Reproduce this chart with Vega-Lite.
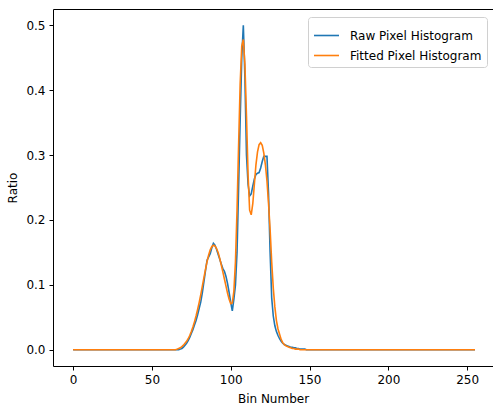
{
  "$schema": "https://vega.github.io/schema/vega-lite/v6.json",
  "autosize": "none",
  "width": 440,
  "height": 357,
  "padding": {"left": 53, "top": 9, "right": 0, "bottom": 43},
  "background": "white",
  "config": {
    "view": {"stroke": null},
    "font": "DejaVu Sans",
    "axis": {
      "domainColor": "black",
      "domainWidth": 1,
      "tickColor": "black",
      "tickSize": 4,
      "tickWidth": 1,
      "labelColor": "black",
      "labelFont": "DejaVu Sans",
      "labelFontSize": 12,
      "labelPadding": 4,
      "titleFont": "DejaVu Sans",
      "titleFontSize": 12,
      "titleFontWeight": "normal",
      "titleColor": "black",
      "grid": false
    }
  },
  "datasets": {
    "raw": [
      {"bin": 0, "ratio": 0}, {"bin": 10, "ratio": 0}, {"bin": 20, "ratio": 0}, {"bin": 30, "ratio": 0}, {"bin": 40, "ratio": 0}, {"bin": 50, "ratio": 0}, {"bin": 60, "ratio": 0}, {"bin": 65, "ratio": 0}, {"bin": 66, "ratio": 0}, {"bin": 67, "ratio": 0},
      {"bin": 68, "ratio": 0.001}, {"bin": 69, "ratio": 0.002}, {"bin": 70, "ratio": 0.004}, {"bin": 71, "ratio": 0.007}, {"bin": 72, "ratio": 0.010}, {"bin": 73, "ratio": 0.014}, {"bin": 74, "ratio": 0.019}, {"bin": 75, "ratio": 0.025}, {"bin": 76, "ratio": 0.031}, {"bin": 77, "ratio": 0.038},
      {"bin": 78, "ratio": 0.045}, {"bin": 79, "ratio": 0.054}, {"bin": 80, "ratio": 0.064}, {"bin": 81, "ratio": 0.074}, {"bin": 82, "ratio": 0.088}, {"bin": 83, "ratio": 0.105}, {"bin": 84, "ratio": 0.122}, {"bin": 85, "ratio": 0.138}, {"bin": 86, "ratio": 0.143}, {"bin": 87, "ratio": 0.148},
      {"bin": 88, "ratio": 0.157}, {"bin": 89, "ratio": 0.164}, {"bin": 90, "ratio": 0.161}, {"bin": 91, "ratio": 0.155}, {"bin": 92, "ratio": 0.147}, {"bin": 93, "ratio": 0.140}, {"bin": 94, "ratio": 0.132}, {"bin": 95, "ratio": 0.125}, {"bin": 96, "ratio": 0.121}, {"bin": 97, "ratio": 0.113},
      {"bin": 98, "ratio": 0.102}, {"bin": 99, "ratio": 0.088}, {"bin": 100, "ratio": 0.073}, {"bin": 101, "ratio": 0.060}, {"bin": 102, "ratio": 0.078}, {"bin": 103, "ratio": 0.100}, {"bin": 104, "ratio": 0.150}, {"bin": 105, "ratio": 0.250}, {"bin": 106, "ratio": 0.355}, {"bin": 107, "ratio": 0.450},
      {"bin": 108, "ratio": 0.500}, {"bin": 109, "ratio": 0.420}, {"bin": 110, "ratio": 0.300}, {"bin": 111, "ratio": 0.255}, {"bin": 112, "ratio": 0.237}, {"bin": 113, "ratio": 0.240}, {"bin": 114, "ratio": 0.252}, {"bin": 115, "ratio": 0.263}, {"bin": 116, "ratio": 0.270}, {"bin": 117, "ratio": 0.272},
      {"bin": 118, "ratio": 0.273}, {"bin": 119, "ratio": 0.280}, {"bin": 120, "ratio": 0.290}, {"bin": 121, "ratio": 0.298}, {"bin": 122, "ratio": 0.298}, {"bin": 123, "ratio": 0.298}, {"bin": 124, "ratio": 0.240}, {"bin": 125, "ratio": 0.150}, {"bin": 126, "ratio": 0.080}, {"bin": 127, "ratio": 0.052},
      {"bin": 128, "ratio": 0.037}, {"bin": 129, "ratio": 0.028}, {"bin": 130, "ratio": 0.022}, {"bin": 131, "ratio": 0.017}, {"bin": 132, "ratio": 0.013}, {"bin": 133, "ratio": 0.010}, {"bin": 134, "ratio": 0.008}, {"bin": 135, "ratio": 0.007}, {"bin": 136, "ratio": 0.006}, {"bin": 137, "ratio": 0.005},
      {"bin": 138, "ratio": 0.004}, {"bin": 139, "ratio": 0.004}, {"bin": 140, "ratio": 0.003}, {"bin": 141, "ratio": 0.003}, {"bin": 142, "ratio": 0.002}, {"bin": 143, "ratio": 0.002}, {"bin": 144, "ratio": 0.001}, {"bin": 145, "ratio": 0.001}, {"bin": 146, "ratio": 0.001}, {"bin": 147, "ratio": 0.001},
      {"bin": 148, "ratio": 0}, {"bin": 150, "ratio": 0}, {"bin": 160, "ratio": 0}, {"bin": 180, "ratio": 0}, {"bin": 200, "ratio": 0}, {"bin": 220, "ratio": 0}, {"bin": 240, "ratio": 0}, {"bin": 255, "ratio": 0}
    ],
    "fit": [
      {"bin": 0, "ratio": 0}, {"bin": 10, "ratio": 0}, {"bin": 20, "ratio": 0}, {"bin": 30, "ratio": 0}, {"bin": 40, "ratio": 0}, {"bin": 50, "ratio": 0}, {"bin": 60, "ratio": 0}, {"bin": 65, "ratio": 0},
      {"bin": 66, "ratio": 0.001}, {"bin": 67, "ratio": 0.002}, {"bin": 68, "ratio": 0.003}, {"bin": 69, "ratio": 0.005}, {"bin": 70, "ratio": 0.007}, {"bin": 71, "ratio": 0.010}, {"bin": 72, "ratio": 0.013}, {"bin": 73, "ratio": 0.017}, {"bin": 74, "ratio": 0.022}, {"bin": 75, "ratio": 0.028},
      {"bin": 76, "ratio": 0.035}, {"bin": 77, "ratio": 0.043}, {"bin": 78, "ratio": 0.052}, {"bin": 79, "ratio": 0.062}, {"bin": 80, "ratio": 0.073}, {"bin": 81, "ratio": 0.085}, {"bin": 82, "ratio": 0.098}, {"bin": 83, "ratio": 0.111}, {"bin": 84, "ratio": 0.124}, {"bin": 85, "ratio": 0.136},
      {"bin": 86, "ratio": 0.146}, {"bin": 87, "ratio": 0.154}, {"bin": 88, "ratio": 0.159}, {"bin": 89, "ratio": 0.161}, {"bin": 90, "ratio": 0.160}, {"bin": 91, "ratio": 0.156}, {"bin": 92, "ratio": 0.150}, {"bin": 93, "ratio": 0.141}, {"bin": 94, "ratio": 0.131}, {"bin": 95, "ratio": 0.120},
      {"bin": 96, "ratio": 0.109}, {"bin": 97, "ratio": 0.098}, {"bin": 98, "ratio": 0.087}, {"bin": 99, "ratio": 0.078}, {"bin": 100, "ratio": 0.071}, {"bin": 101, "ratio": 0.072}, {"bin": 102, "ratio": 0.090}, {"bin": 103, "ratio": 0.135}, {"bin": 104, "ratio": 0.215}, {"bin": 105, "ratio": 0.315},
      {"bin": 106, "ratio": 0.410}, {"bin": 107, "ratio": 0.468}, {"bin": 108, "ratio": 0.478}, {"bin": 109, "ratio": 0.440}, {"bin": 110, "ratio": 0.360}, {"bin": 111, "ratio": 0.270}, {"bin": 112, "ratio": 0.215}, {"bin": 113, "ratio": 0.208}, {"bin": 114, "ratio": 0.225}, {"bin": 115, "ratio": 0.255},
      {"bin": 116, "ratio": 0.285}, {"bin": 117, "ratio": 0.305}, {"bin": 118, "ratio": 0.316}, {"bin": 119, "ratio": 0.319}, {"bin": 120, "ratio": 0.315}, {"bin": 121, "ratio": 0.303}, {"bin": 122, "ratio": 0.285}, {"bin": 123, "ratio": 0.260}, {"bin": 124, "ratio": 0.225}, {"bin": 125, "ratio": 0.185},
      {"bin": 126, "ratio": 0.135}, {"bin": 127, "ratio": 0.095}, {"bin": 128, "ratio": 0.066}, {"bin": 129, "ratio": 0.045}, {"bin": 130, "ratio": 0.032}, {"bin": 131, "ratio": 0.024}, {"bin": 132, "ratio": 0.016}, {"bin": 133, "ratio": 0.011}, {"bin": 134, "ratio": 0.008}, {"bin": 135, "ratio": 0.006},
      {"bin": 136, "ratio": 0.005}, {"bin": 137, "ratio": 0.004}, {"bin": 138, "ratio": 0.003}, {"bin": 139, "ratio": 0.002}, {"bin": 140, "ratio": 0.002}, {"bin": 141, "ratio": 0.001}, {"bin": 142, "ratio": 0.001}, {"bin": 143, "ratio": 0.001}, {"bin": 144, "ratio": 0},
      {"bin": 150, "ratio": 0}, {"bin": 160, "ratio": 0}, {"bin": 180, "ratio": 0}, {"bin": 200, "ratio": 0}, {"bin": 220, "ratio": 0}, {"bin": 240, "ratio": 0}, {"bin": 255, "ratio": 0}
    ]
  },
  "layer": [
    {
      "data": {"name": "raw"},
      "mark": {"type": "line", "strokeWidth": 1.6, "clip": true},
      "encoding": {
        "x": {
          "field": "bin", "type": "quantitative",
          "scale": {"domain": [-12.75, 266.4], "nice": false, "zero": false},
          "axis": {"values": [0, 50, 100, 150, 200, 250], "title": "Bin Number", "titlePadding": 8, "orient": "bottom"}
        },
        "y": {
          "field": "ratio", "type": "quantitative",
          "scale": {"domain": [-0.025, 0.525], "nice": false, "zero": false},
          "axis": {"values": [0, 0.1, 0.2, 0.3, 0.4, 0.5], "format": ".1f", "title": "Ratio", "titlePadding": 6}
        },
        "color": {
          "datum": "Raw Pixel Histogram",
          "type": "nominal",
          "scale": {"domain": ["Raw Pixel Histogram", "Fitted Pixel Histogram"], "range": ["#1f77b4", "#ff7f0e"]},
          "legend": {
            "title": null,
            "orient": "none",
            "legendX": 255,
            "legendY": 8,
            "symbolType": "stroke",
            "symbolSize": 625,
            "symbolStrokeWidth": 1.6,
            "labelFont": "DejaVu Sans",
            "labelFontSize": 12,
            "labelColor": "black",
            "labelOffset": 10,
            "rowPadding": 0,
            "padding": 5,
            "strokeColor": "#d0d0d0",
            "fillColor": "rgba(255,255,255,0.8)",
            "cornerRadius": 3
          }
        }
      }
    },
    {
      "data": {"name": "fit"},
      "mark": {"type": "line", "strokeWidth": 1.6, "clip": true},
      "encoding": {
        "x": {
          "field": "bin", "type": "quantitative",
          "axis": {"orient": "top", "labels": false, "ticks": false, "title": null}
        },
        "y": {"field": "ratio", "type": "quantitative"},
        "color": {"datum": "Fitted Pixel Histogram", "type": "nominal"}
      }
    }
  ],
  "resolve": {"axis": {"x": "independent"}}
}
